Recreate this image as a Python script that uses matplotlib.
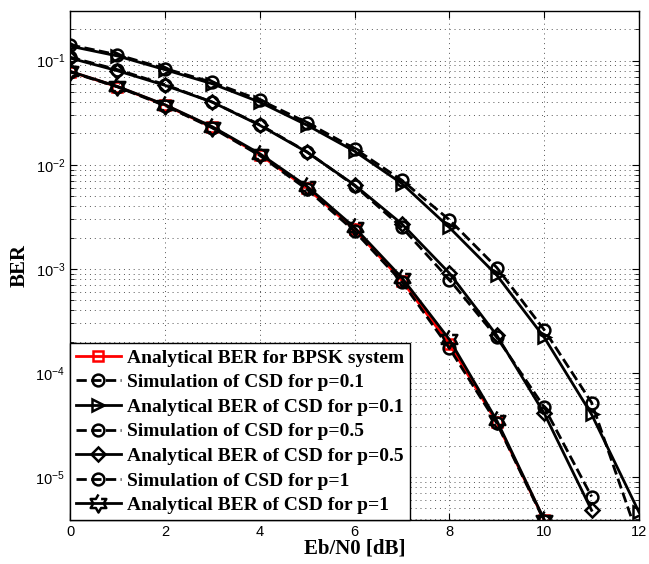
import matplotlib
matplotlib.use('Agg')
import matplotlib.pyplot as plt
import numpy as np
from matplotlib.ticker import LogLocator, NullLocator, NullFormatter

plt.rcParams['font.family'] = 'Liberation Sans'
plt.rcParams['mathtext.fontset'] = 'custom'
plt.rcParams['mathtext.rm'] = 'Liberation Sans'
plt.rcParams['mathtext.it'] = 'Liberation Sans:italic'

# Data
snr_db = [0, 1, 2, 3, 4, 5, 6, 7, 8, 9, 10, 11, 12]

ber_bpsk = [0.0786, 0.0563, 0.0375, 0.0229, 0.0125, 0.00595, 0.00239,
            7.7e-4, 1.9e-4, 3.36e-5, 3.87e-6]

sim_p01 = [0.142, 0.114, 0.084, 0.062, 0.042, 0.0254, 0.0143, 0.0071,
           0.00296, 1.03e-3, 2.6e-4, 5.2e-5, 2.5e-6]
ana_p01 = [0.138, 0.111, 0.082, 0.060, 0.040, 0.024, 0.0135, 0.0066,
           0.0025, 8.7e-4, 2.2e-4, 4.0e-5, 4.6e-6]

sim_p05 = [0.108, 0.082, 0.059, 0.040, 0.0243, 0.0133, 0.0063, 0.0025,
           7.9e-4, 2.2e-4, 4.7e-5, 6.5e-6]
ana_p05 = [0.106, 0.080, 0.058, 0.040, 0.024, 0.0132, 0.0064, 0.0027,
           9.1e-4, 2.3e-4, 4.1e-5, 4.8e-6]

sim_p1 = [0.078, 0.056, 0.037, 0.0226, 0.0123, 0.0058, 0.0023, 7.5e-4,
          1.73e-4, 3.3e-5, 3.8e-6]
ana_p1 = [0.079, 0.0565, 0.0378, 0.0232, 0.0128, 0.0062, 0.0025, 8.2e-4,
          2.1e-4, 3.5e-5, 3.9e-6]

labels = ['Analytical BER for BPSK system',
          'Simulation of CSD for p=0.1',
          'Analytical BER of CSD for p=0.1',
          'Simulation of CSD for p=0.5',
          'Analytical BER of CSD for p=0.5',
          'Simulation of CSD for p=1',
          'Analytical BER of CSD for p=1']

# hexagram marker like MATLAB's 'h'
ang = np.pi / 2 + np.arange(12) * np.pi / 6
rad = np.where(np.arange(12) % 2 == 0, 1.0, 1 / np.sqrt(3))
hexagram = list(zip(rad * np.cos(ang), rad * np.sin(ang)))

fig = plt.figure(figsize=(6.49, 5.64), dpi=100)
ax = fig.add_axes([0.1079, 0.078, 0.8767, 0.9025])

lw = 2
ms = 8.5
mew = 1.8

def x_of(v):
    return snr_db[:len(v)]

ax.semilogy(x_of(ber_bpsk), ber_bpsk, '-s', color='red', lw=lw, ms=7.5,
            mew=mew, mfc='none', label=labels[0])
ax.semilogy(x_of(sim_p01), sim_p01, '--o', color='black', lw=lw, ms=ms,
            mew=mew, mfc='none', label=labels[1])
ax.semilogy(x_of(ana_p01), ana_p01, '->', color='black', lw=lw, ms=ms,
            mew=mew, mfc='none', label=labels[2])
ax.semilogy(x_of(sim_p05), sim_p05, '--o', color='black', lw=lw, ms=ms,
            mew=mew, mfc='none', label=labels[3])
ax.semilogy(x_of(ana_p05), ana_p05, '-D', color='black', lw=lw, ms=7,
            mew=mew, mfc='none', label=labels[4])
ax.semilogy(x_of(sim_p1), sim_p1, '--o', color='black', lw=lw, ms=ms,
            mew=mew, mfc='none', label=labels[5])
ax.semilogy(x_of(ana_p1), ana_p1, '-', marker=hexagram, color='black',
            lw=lw, ms=13, mew=mew, mfc='none', label=labels[6])

ax.set_xlim(0, 12)
ax.set_ylim(3.87e-6, 0.30)
ax.set_xticks(np.arange(0, 13, 2))
ax.xaxis.set_minor_locator(NullLocator())
ax.yaxis.set_major_locator(LogLocator(base=10, numticks=20))
ax.yaxis.set_minor_locator(LogLocator(base=10, subs=np.arange(2, 10), numticks=20))
ax.yaxis.set_minor_formatter(NullFormatter())

ax.grid(True, which='major', linestyle=(0, (1, 4)), color='#555555', lw=0.7)
ax.grid(True, which='minor', axis='y', linestyle=(0, (1, 4)), color='#555555', lw=0.7)

ax.tick_params(which='both', direction='in', top=True, right=True, labelsize=10.5)
ax.tick_params(which='major', length=5)
ax.tick_params(which='minor', length=3)
for sp in ax.spines.values():
    sp.set_linewidth(1.0)

ax.set_xlabel('Eb/N0 [dB]', family='Liberation Serif', fontweight='bold',
              fontsize=15, labelpad=0)
ax.set_ylabel('BER', family='Liberation Serif', fontweight='bold',
              fontsize=15, labelpad=4)

leg = ax.legend(loc='lower left', bbox_to_anchor=(0, 0), borderaxespad=0,
                prop={'family': 'Liberation Serif', 'weight': 'bold', 'size': 14},
                handlelength=2.3, handletextpad=0.33, labelspacing=0.36,
                borderpad=0.3, fancybox=False, framealpha=1, edgecolor='black')
leg.get_frame().set_linewidth(1.0)

fig.savefig('out.png', dpi=100)
